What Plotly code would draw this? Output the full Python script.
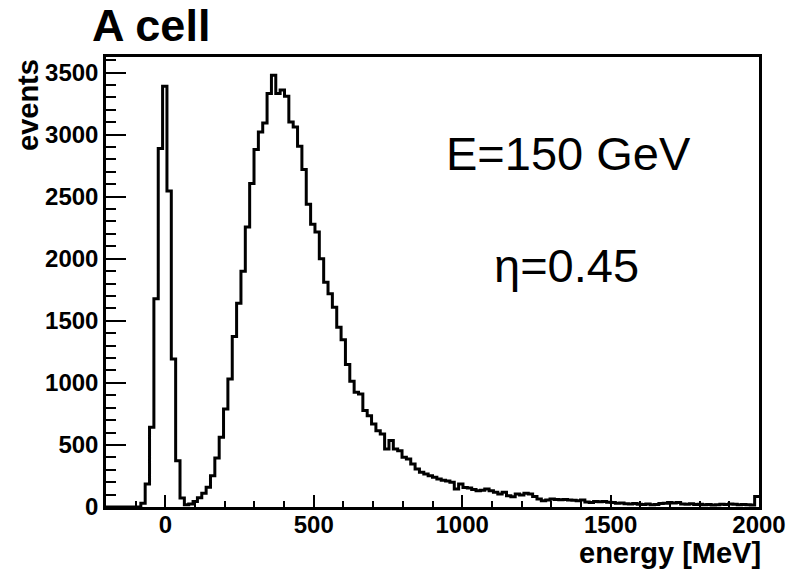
import plotly.graph_objects as go

# ---- data ----
x_min, x_max, n_bins = -200.0, 2000.0, 150
counts = [
    0, 0, 0, 0, 0, 0, 0, 0, 30, 185,
    642, 1677, 2887, 3390, 2545, 1193, 373, 72, 18, 25,
    45, 75, 110, 160, 252, 395, 561, 790, 1032, 1373,
    1642, 1900, 2255, 2605, 2879, 3021, 3094, 3331, 3478, 3331,
    3360, 3309, 3102, 3061, 2906, 2718, 2438, 2277, 2215, 2000,
    1811, 1718, 1610, 1448, 1347, 1148, 1013, 924, 911, 777,
    736, 669, 615, 589, 468, 535, 468, 454, 400, 387,
    347, 306, 279, 266, 252, 239, 226, 215, 210, 200,
    145, 185, 158, 153, 140, 131, 135, 145, 131, 118,
    105, 118, 91, 83, 105, 96, 110, 105, 85, 64,
    51, 56, 64, 60, 58, 60, 56, 55, 50, 56,
    40, 37, 45, 42, 45, 38, 36, 30, 32, 27,
    25, 28, 22, 20, 24, 18, 20, 29, 30, 37,
    32, 37, 24, 22, 26, 20, 22, 19, 21, 17,
    18, 23, 20, 24, 22, 18, 21, 19, 17, 85,
]
x_ticks = [0, 500, 1000, 1500, 2000]
y_ticks = [0, 500, 1000, 1500, 2000, 2500, 3000, 3500]
title_text = "A cell"
x_title = "energy [MeV]"
y_title = "events"
label_energy = "E=150 GeV"
label_eta = "η=0.45"

# ---- build step outline via library ----
width = (x_max - x_min) / n_bins
edges = [x_min + i * width for i in range(n_bins + 1)]
xs = [edges[0]] + edges
ys = [0] + counts + [counts[-1]]

W, H = 794, 569
L, R, T, B = 106, 35, 57, 62
pw, ph = W - L - R, H - T - B

def px2paper_x(px):
    return (px - L) / pw

def py2paper_y(py):
    return (H - B - py) / ph

fig = go.Figure()
fig.add_trace(go.Scatter(
    x=xs, y=ys, mode="lines", line=dict(color="black", width=3, shape="hv"),
    hoverinfo="skip", showlegend=False,
))

tick_font = dict(family="Liberation Sans, Arial, sans-serif", size=24, color="black", weight="bold")

fig.update_layout(
    width=W, height=H,
    margin=dict(l=L, r=R, t=T, b=B, autoexpand=False),
    paper_bgcolor="white", plot_bgcolor="white",
    showlegend=False,
    xaxis=dict(
        range=[x_min, x_max], tickvals=x_ticks, ticktext=[str(v) for v in x_ticks],
        ticks="inside", ticklen=12, tickwidth=2, tickcolor="black",
        minor=dict(dtick=100, ticks="inside", ticklen=6, tickwidth=2, tickcolor="black"),
        showline=True, linewidth=2.5, linecolor="black", mirror=True,
        showgrid=False, zeroline=False, tickfont=tick_font,
        ticklabelstandoff=-6,
    ),
    yaxis=dict(
        range=[0, 3625], tickvals=y_ticks, ticktext=[str(v) for v in y_ticks],
        ticks="inside", ticklen=20, tickwidth=2, tickcolor="black",
        minor=dict(dtick=100, ticks="inside", ticklen=10, tickwidth=2, tickcolor="black"),
        showline=True, linewidth=2.5, linecolor="black", mirror=True,
        showgrid=False, zeroline=False, tickfont=tick_font,
        ticklabelstandoff=0,
    ),
)

bold = "Liberation Sans, Arial, sans-serif"
fig.add_annotation(text=title_text, xref="paper", yref="paper",
                   x=px2paper_x(90), y=py2paper_y(26), xanchor="left", yanchor="middle",
                   showarrow=False, font=dict(family=bold, size=45, color="black", weight="bold"))
fig.add_annotation(text=x_title, xref="paper", yref="paper",
                   x=px2paper_x(762), y=py2paper_y(553), xanchor="right", yanchor="middle",
                   showarrow=False, font=dict(family=bold, size=29, color="black", weight="bold"),
                   borderpad=0)
fig.add_annotation(text=y_title, xref="paper", yref="paper", textangle=-90,
                   x=px2paper_x(28), y=py2paper_y(57), xanchor="center", yanchor="top",
                   showarrow=False, font=dict(family=bold, size=29, color="black", weight="bold"))
fig.add_annotation(text=label_energy, xref="paper", yref="paper",
                   x=px2paper_x(444), y=py2paper_y(154), xanchor="left", yanchor="middle",
                   showarrow=False, font=dict(family=bold, size=47, color="black"))
fig.add_annotation(text=label_eta, xref="paper", yref="paper",
                   x=px2paper_x(492), y=py2paper_y(265), xanchor="left", yanchor="middle",
                   showarrow=False, font=dict(family=bold, size=47, color="black"))

fig.write_html("out.html")
